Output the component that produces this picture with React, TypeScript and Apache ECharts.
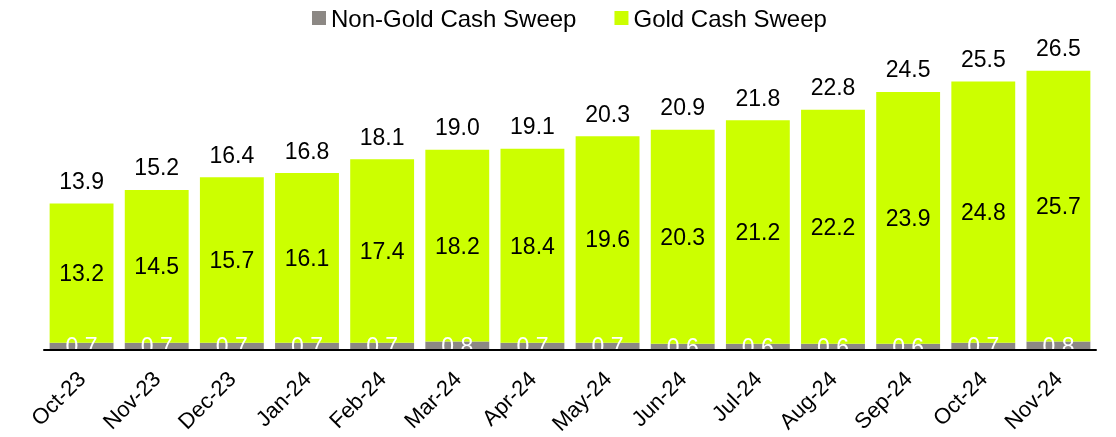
import React, { useEffect, useRef } from "react";
import * as echarts from "echarts";

const categories = ["Oct-23", "Nov-23", "Dec-23", "Jan-24", "Feb-24", "Mar-24", "Apr-24", "May-24", "Jun-24", "Jul-24", "Aug-24", "Sep-24", "Oct-24", "Nov-24"];
const nonGold = [0.7, 0.7, 0.7, 0.7, 0.7, 0.8, 0.7, 0.7, 0.6, 0.6, 0.6, 0.6, 0.7, 0.8];
const gold = [13.2, 14.5, 15.7, 16.1, 17.4, 18.2, 18.4, 19.6, 20.3, 21.2, 22.2, 23.9, 24.8, 25.7];
const totals = [13.9, 15.2, 16.4, 16.8, 18.1, 19.0, 19.1, 20.3, 20.9, 21.8, 22.8, 24.5, 25.5, 26.5];

const FONT = "'Liberation Sans', Arial, sans-serif";

export default function App() {
  const ref = useRef<HTMLDivElement>(null);
  useEffect(() => {
    if (!ref.current) return;
    const chart = echarts.init(ref.current, undefined, { renderer: "svg" });
    chart.setOption({
      animation: false,
      textStyle: { fontFamily: FONT },
      legend: {
        data: ["Non-Gold Cash Sweep", "Gold Cash Sweep"],
        left: 307,
        top: 1,
        itemWidth: 14,
        itemHeight: 14,
        itemGap: 38,
        icon: "rect",
        textStyle: { fontSize: 24, color: "#000", fontFamily: FONT },
      },
      grid: { left: 44, right: 20, top: 34, bottom: 87 },
      xAxis: {
        type: "category",
        data: categories,
        z: 10,
        axisLine: { lineStyle: { color: "#000", width: 2 } },
        axisTick: { show: false },
        axisLabel: { rotate: 45, fontSize: 22, color: "#000", margin: 25, fontFamily: FONT },
      },
      yAxis: {
        type: "value",
        min: 0,
        max: 30,
        show: false,
        splitLine: { show: false },
      },
      series: [
        {
          name: "Non-Gold Cash Sweep",
          type: "bar",
          stack: "s",
          data: nonGold,
          barCategoryGap: "15%",
          itemStyle: { color: "#8C8884" },
          label: {
            show: true,
            position: "inside",
            color: "#fff",
            fontSize: 23,
            fontFamily: FONT,
            formatter: (p: any) => Number(p.value).toFixed(1),
          },
        },
        {
          name: "Gold Cash Sweep",
          type: "bar",
          stack: "s",
          data: gold,
          barCategoryGap: "15%",
          itemStyle: { color: "#CCFF00" },
          label: {
            show: true,
            position: "inside",
            color: "#000",
            fontSize: 23,
            fontFamily: FONT,
            formatter: (p: any) => Number(p.value).toFixed(1),
          },
        },
        {
          name: "Total",
          type: "scatter",
          data: totals,
          symbolSize: 0,
          silent: true,
          itemStyle: { opacity: 1 },
          label: {
            show: true,
            position: "top",
            distance: 11,
            color: "#000",
            opacity: 1,
            fontSize: 23,
            fontFamily: FONT,
            formatter: (p: any) => Number(p.value).toFixed(1),
          },
        },
      ],
    });
    return () => chart.dispose();
  }, []);
  return <div ref={ref} style={{ position: "fixed", left: 0, top: 0, width: 1116, height: 437 }} />;
}
